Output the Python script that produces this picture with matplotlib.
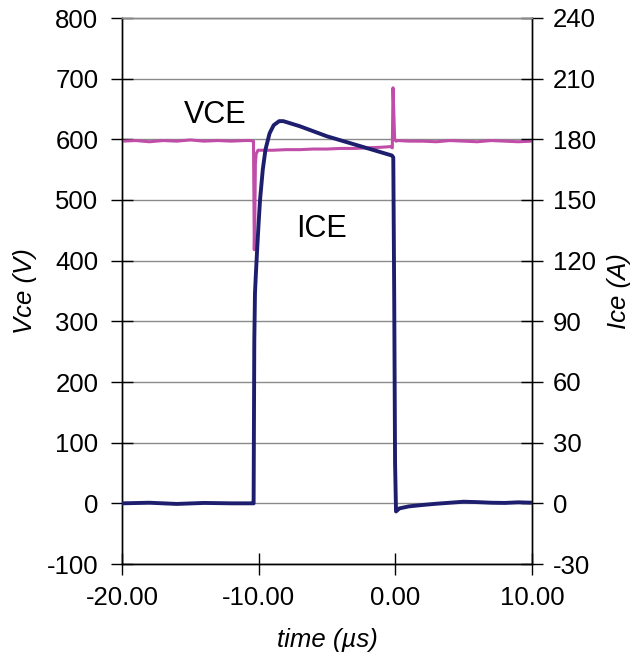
import matplotlib
matplotlib.use("Agg")
import matplotlib.pyplot as plt

plt.rcParams['font.family'] = ['Liberation Sans', 'DejaVu Sans']
plt.rcParams['axes.unicode_minus'] = False

# VCE (V) vs time (us)
t_vce = [-20, -19, -18, -17, -16, -15, -14, -13, -12, -11, -10.6, -10.38, -10.32,
         -10.28, -10.24, -10.18, -10.05, -9, -8, -7, -6, -5, -4, -3, -2, -1,
         -0.35, -0.22, -0.17, -0.12, -0.05, 0.05, 0.2, 1, 2, 3, 4, 5, 6, 7, 8, 9, 10]
vce = [597, 598, 596, 598, 597, 599, 597, 598, 597, 598, 598, 597, 418,
       470, 560, 576, 582, 582, 583, 583, 584, 584, 585, 585, 586, 587,
       588, 586, 685, 650, 600, 597, 598, 597, 597, 596, 598, 597, 596, 598, 597, 596, 597]

# ICE (A) vs time (us)
t_ice = [-20, -18, -16, -14, -12, -10.5, -10.37, -10.32, -10.27, -10.2, -10.1, -10.0, -9.9,
         -9.7, -9.5, -9.2, -8.9, -8.5, -8.2, -7, -6, -5, -4, -3, -2, -1, -0.25, -0.15, -0.08,
         -0.02, 0.05, 0.3, 1, 2, 3, 4, 5, 6, 7, 8, 9, 10]
ice = [0, 0.3, -0.3, 0.2, 0, 0, 0, 80, 104, 114, 127, 139, 150,
       165, 175, 183, 187, 189, 189, 186.5, 184, 181.5, 179.5, 177.5, 175.5, 173.5, 172, 171, 100,
       20, -4, -2.5, -1.5, -0.8, -0.2, 0.3, 0.8, 0.6, 0.3, 0.2, 0.5, 0.3]

vce_ticks = list(range(-100, 801, 100))
ice_ticks = list(range(-30, 241, 30))
time_ticks = [-20, -10, 0, 10]
time_labels = ["-20.00", "-10.00", "0.00", "10.00"]

fig = plt.figure(figsize=(6.37, 6.63), dpi=100)
ax = fig.add_axes([122/637, 1 - 564/663, (532-122)/637, (564-18)/663])
ax2 = ax.twinx()

ax.set_xlim(-20, 10)
ax.set_ylim(-100, 800)
ax2.set_ylim(-30, 240)
ax.set_yticks(vce_ticks)
ax2.set_yticks(ice_ticks)
ax.set_xticks(time_ticks)
ax.set_xticklabels(time_labels)

ax.grid(axis='y', color='#8a8a8a', linewidth=1.0)
ax.set_axisbelow(True)

ax.plot(t_vce, vce, color='#C04EA8', linewidth=2.2, zorder=3)
ax2.plot(t_ice, ice, color='#1E1E6E', linewidth=2.8, zorder=3)

fs = 18.5
for a in (ax, ax2):
    a.tick_params(direction='inout', length=16, width=1, labelsize=fs, colors='black')
    for s in a.spines.values():
        s.set_color('black')
        s.set_linewidth(1)
    a.spines['top'].set_color('#8a8a8a')
ax.tick_params(axis='y', pad=9)
ax2.tick_params(axis='y', pad=7)
ax.tick_params(axis='x', pad=8)

ax.set_ylabel('Vce (V)', fontsize=fs, style='italic', labelpad=7)
ax2.set_ylabel('Ice (A)', fontsize=fs, style='italic', labelpad=8)
ax.set_xlabel('time (µs)', fontsize=fs, style='italic', labelpad=13)

ax.text(-13.2, 640, 'VCE', fontsize=22, ha='center', va='center')
ax.text(-5.37, 453, 'ICE', fontsize=22, ha='center', va='center')

fig.savefig('out.png', dpi=100)
